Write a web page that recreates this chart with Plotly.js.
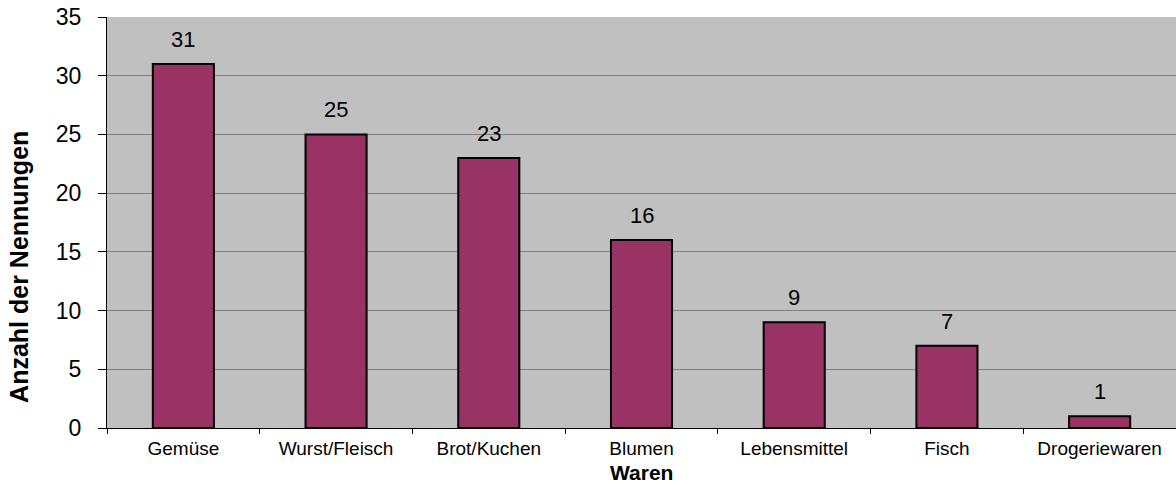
<!DOCTYPE html>
<html>
<head>
<meta charset="utf-8">
<script src="https://cdn.plot.ly/plotly-3.0.1.min.js"></script>
<style>html,body{margin:0;padding:0;background:#fff;}#chart{width:1176px;height:485px;}</style>
</head>
<body>
<div id="chart"></div>
<script>
const categories = ["Gemüse", "Wurst/Fleisch", "Brot/Kuchen", "Blumen", "Lebensmittel", "Fisch", "Drogeriewaren"];
const values = [31, 25, 23, 16, 9, 7, 1];
const yTicks = [0, 5, 10, 15, 20, 25, 30, 35];
const xTitle = "Waren";
const yTitle = "Anzahl der Nennungen";

const font = "Arial, 'Liberation Sans', sans-serif";

const trace = {
  type: "bar",
  x: categories,
  y: values,
  width: 0.4,
  marker: {color: "#993366", line: {color: "#000000", width: 2}},
  hoverinfo: "x+y"
};

const labelAnnotations = categories.map((c, i) => ({
  x: c, y: values[i], xref: "x", yref: "y",
  text: String(values[i]), showarrow: false,
  yanchor: "bottom", yshift: 10,
  font: {family: font, size: 22, color: "#000"}
}));

labelAnnotations.push({
  xref: "paper", yref: "paper", x: -0.0823, y: 0.392,
  text: "<b>" + yTitle + "</b>", textangle: -90, showarrow: false,
  xanchor: "center", yanchor: "middle",
  font: {family: font, size: 25, color: "#000"}
});

labelAnnotations.push({
  xref: "paper", yref: "paper", x: 0.5, y: -0.1387,
  text: "<b>" + xTitle + "</b>", showarrow: false,
  xanchor: "center", yanchor: "bottom", yshift: 0,
  borderpad: 0,
  font: {family: font, size: 21, color: "#000"}
});

const layout = {
  width: 1176, height: 485,
  margin: {l: 107, r: 0, t: 17, b: 57, pad: 0},
  paper_bgcolor: "#ffffff",
  plot_bgcolor: "#c0c0c0",
  showlegend: false,
  bargap: 0.6,
  xaxis: {
    type: "category",
    tickson: "boundaries",
    ticks: "outside", ticklen: 5, tickcolor: "#000", tickwidth: 1,
    ticklabelstandoff: 3,
    showgrid: false,
    showline: true, linecolor: "#000", linewidth: 1,
    tickfont: {family: font, size: 19, color: "#000"},
    fixedrange: true
  },
  yaxis: {
    range: [0, 35],
    tickvals: yTicks,
    ticktext: yTicks.map(String),
    ticks: "outside", ticklen: 8, tickcolor: "#000", tickwidth: 1,
    ticklabelstandoff: 12,
    showgrid: true, gridcolor: "#808080", gridwidth: 1,
    zeroline: false,
    showline: true, linecolor: "#000", linewidth: 1,
    tickfont: {family: font, size: 23, color: "#000"},
    fixedrange: true
  },
  annotations: labelAnnotations
};

Plotly.newPlot("chart", [trace], layout, {displayModeBar: false, staticPlot: true});
</script>
</body>
</html>
